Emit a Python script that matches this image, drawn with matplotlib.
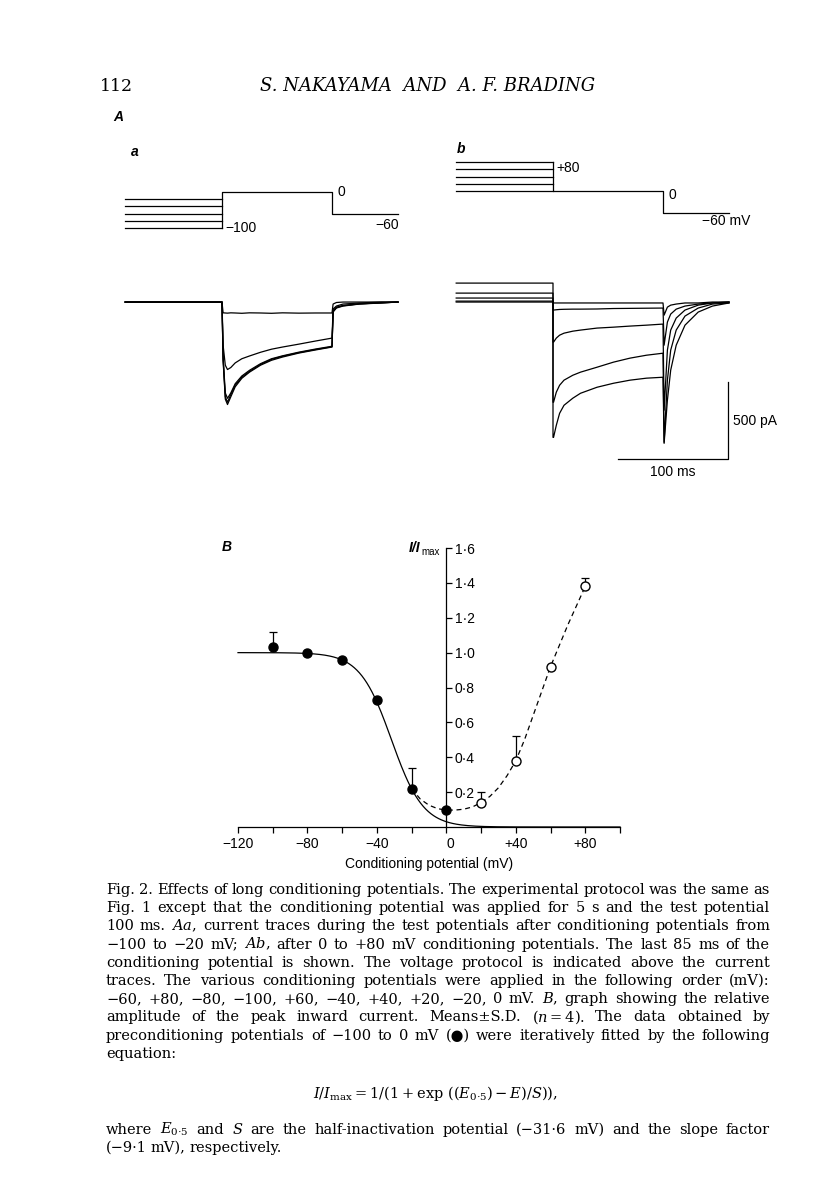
"""
Fig. 2 page: long conditioning potentials, current traces and I/Imax curve.
"""
import numpy as np
import matplotlib
matplotlib.use("Agg")
import matplotlib.pyplot as plt

W, H = 816, 1200

# ---- A: voltage protocol (mV) ----
cond_a_mV = [-100, -80, -60, -40, -20]
cond_b_mV = [0, 20, 40, 60, 80]
test_mV = 0
hold_mV = -60
t_cond_start = -88      # ms, last 85 ms of conditioning shown
t_test_end = 100        # ms
t_end = 160             # ms

# ---- Aa: currents after -100..-20 mV (pA) ----
ta_test = [0, 1, 3, 5, 8, 12, 18, 25, 35, 45, 55, 70, 85, 100]
ia_test = [
    [0, -380, -630, -665, -615, -550, -495, -455, -410, -378, -357, -331, -311, -292],   # -100
    [0, -370, -615, -650, -600, -540, -488, -450, -405, -372, -352, -328, -308, -290],   # -80
    [0, -355, -590, -625, -590, -530, -480, -443, -400, -368, -349, -325, -305, -287],   # -60
    [0, -280, -410, -438, -425, -395, -368, -350, -326, -306, -292, -273, -253, -234],   # -40
    [0, -70, -71, -72, -70, -71, -73, -70, -71, -73, -70, -72, -71, -71],                # -20
]
ta_tail = [100, 101, 104, 110, 125, 145, 160]
ia_tail = [
    [-292, -65, -39, -26, -13, -6, 0],
    [-290, -60, -36, -24, -12, -5, 0],
    [-287, -55, -33, -22, -11, -5, 0],
    [-234, -45, -26, -13, -6, 0, 0],
    [-71, -13, -3, 0, 0, 0, 0],
]
ia_pre = [0, 0, 0, 0, 0]

# ---- Ab: currents after 0..+80 mV (pA) ----
ib_pre = [0, 6, 26, 58, 123]
tb_test = [0, 0.5, 3, 6, 10, 18, 25, 40, 55, 70, 85, 100]
ib_test = [
    [-6, -6, -6, -6, -6, -6, -6, -6, -6, -6, -6, -6],                                   # 0
    [-52, -52, -50, -48, -47, -46, -46, -45, -42, -41, -40, -39],                       # +20
    [-260, -260, -234, -215, -202, -189, -182, -169, -163, -156, -150, -143],           # +40
    [-650, -650, -585, -540, -507, -475, -455, -423, -390, -364, -345, -332],           # +60
    [-878, -878, -800, -722, -670, -624, -592, -553, -527, -507, -494, -488],           # +80
]
tb_tail = [100, 101, 104, 107, 112, 120, 132, 145, 160]
ib_tail = [
    [-6, -85, -33, -20, -13, -6, -6, 0, 0],
    [-39, -280, -130, -78, -46, -26, -13, -6, 0],
    [-143, -702, -312, -182, -104, -52, -20, -6, 0],
    [-332, -910, -507, -312, -182, -91, -39, -13, -6],
    [-488, -917, -637, -442, -280, -150, -65, -26, -6],
]
bar_ms, bar_pA = 100, 500

# ---- B: relative peak inward current ----
fill_mV = [-100, -80, -60, -40, -20, 0]
fill_rel = [1.03, 1.00, 0.96, 0.73, 0.22, 0.10]
fill_sd = [0.09, 0, 0, 0, 0.12, 0]
open_mV = [20, 40, 60, 80]
open_rel = [0.14, 0.38, 0.92, 1.38]
open_sd = [0.06, 0.14, 0, 0.05]
dash_mV = [-20, -15, -10, -5, 0, 5, 10, 15, 20, 25, 30, 35, 40, 45, 50, 55, 60, 65, 70, 75, 80]
dash_rel = [0.22, 0.16, 0.125, 0.105, 0.097, 0.097, 0.102, 0.115, 0.14, 0.175, 0.225,
            0.295, 0.38, 0.50, 0.64, 0.78, 0.92, 1.04, 1.16, 1.27, 1.38]
E05, S_fit = -31.6, -9.1
x_ticks = [-120, -80, -40, 0, 40, 80]
x_tick_labels = ["\u2212120", "\u221280", "\u221240", "0", "+40", "+80"]
x_minor = [-100, -60, -20, 20, 60, 100]
y_ticks = [0.2, 0.4, 0.6, 0.8, 1.0, 1.2, 1.4, 1.6]
y_tick_labels = ["0\u00b72", "0\u00b74", "0\u00b76", "0\u00b78", "1\u00b70", "1\u00b72", "1\u00b74", "1\u00b76"]

caption = [
    "Fig. 2. Effects of long conditioning potentials. The experimental protocol was the same as",
    "Fig. 1 except that the conditioning potential was applied for 5 s and the test potential",
    "100 ms. $Aa$, current traces during the test potentials after conditioning potentials from",
    "\u2212100 to \u221220 mV; $Ab$, after 0 to +80 mV conditioning potentials. The last 85 ms of the",
    "conditioning potential is shown. The voltage protocol is indicated above the current",
    "traces. The various conditioning potentials were applied in the following order (mV):",
    "\u221260, +80, \u221280, \u2212100, +60, \u221240, +40, +20, \u221220, 0 mV. $B$, graph showing the relative",
    "amplitude of the peak inward current. Means\u00b1S.D. ($n=4$). The data obtained by",
    "preconditioning potentials of \u2212100 to 0 mV (\u25cf) were iteratively fitted by the following",
    "equation:",
]
equation = r"$I/I_{\rm max} = 1/(1+\exp\,((E_{0{\cdot}5})-E)/S)),$"
caption_tail = [
    "where $E_{0{\\cdot}5}$ and $S$ are the half-inactivation potential (\u221231\u00b76 mV) and the slope factor",
    "(\u22129\u00b71 mV), respectively.",
]

plt.rcParams["mathtext.fontset"] = "dejavuserif"
SANS = "Liberation Sans"
SERIF = ["DejaVu Serif", "DejaVu Sans"]

fig = plt.figure(figsize=(W / 100, H / 100), dpi=100)


def px_axes(left, top, right, bottom):
    return fig.add_axes([left / W, 1 - bottom / H, (right - left) / W, (bottom - top) / H])


def ftext(x, y, s, **kw):
    return fig.text(x / W, 1 - y / H, s, **kw)


# header
ftext(100, 91, "112", family=SERIF, size=12.5, va="baseline")
ftext(428, 91, "S. NAKAYAMA  AND  A. F. BRADING", family=SERIF, size=13,
      style="italic", ha="center", va="baseline")
ftext(113, 117, "A", family=SANS, size=10, style="italic", weight="bold", va="center")
ftext(131, 152, "a", family=SANS, size=10, style="italic", weight="bold", va="center")
ftext(457, 149, "b", family=SANS, size=10, style="italic", weight="bold", va="center")

LW = 0.9
lab = dict(family=SANS, size=10, va="center")

# ---- protocols ----
for left, zero_y, conds, label_pos in [(123, 192, cond_a_mV, "a"), (454, 191, cond_b_mV, "b")]:
    ax = px_axes(left, zero_y - 90 * 0.36, left + 252 * 1.1, zero_y + 110 * 0.36)
    ax.set_xlim(-90, 162)
    ax.set_ylim(-110, 90)
    ax.axis("off")
    for v in conds:
        ax.plot([t_cond_start, 0], [v, v], color="black", lw=LW)
    far = conds[0] if abs(conds[0]) > abs(conds[-1]) else conds[-1]
    ax.plot([0, 0, t_test_end, t_test_end, t_end],
            [far, test_mV, test_mV, hold_mV, hold_mV], color="black", lw=LW)
    if label_pos == "a":
        ax.text(105, test_mV, "0", ha="left", **lab)
        ax.text(3, -100, "\u2212100", ha="left", **lab)
        ax.text(161, -92, "\u221260", ha="right", **lab)
    else:
        ax.text(3, 80 - 15, "+80", ha="left", **lab)
        ax.text(105, test_mV - 10, "0", ha="left", **lab)
        ax.text(135, -82, "\u221260 mV", ha="left", **lab)


def trace(ax, pre, tt, it, tl, il):
    t = [t_cond_start, 0] + list(tt) + list(tl[1:])
    i = [pre, pre] + list(it) + list(il[1:])
    ax.plot(t, i, color="black", lw=LW)


# ---- current traces ----
ax_a = px_axes(123, 270, 123 + 252 * 1.1, 470)
ax_b = px_axes(454, 270, 454 + 252 * 1.1, 470)
for ax in (ax_a, ax_b):
    ax.set_xlim(-90, 162)
    ax.set_ylim(-1090, 208)
    ax.axis("off")
for k in range(5):
    trace(ax_a, ia_pre[k], ta_test, ia_test[k], ta_tail, ia_tail[k])
    trace(ax_b, ib_pre[k], tb_test, ib_test[k], tb_tail, ib_tail[k])
# scale bar
bx, by = 159, -1020
ax_b.plot([bx - bar_ms, bx, bx], [by, by, by + bar_pA], color="black", lw=LW)
ax_b.text(bx + 5, by + bar_pA / 2, "500 pA", ha="left", **lab)
ax_b.text(bx - bar_ms / 2, by - 80, "100 ms", ha="center", **lab)

# ---- B ----
axB = px_axes(238, 548, 620, 827)
axB.set_xlim(-120, 100)
axB.set_ylim(0, 1.6)
axB.patch.set_visible(False)
for s in ("left", "top"):
    axB.spines[s].set_visible(False)
axB.spines["right"].set_position(("data", 0))
axB.spines["right"].set_linewidth(LW)
axB.spines["bottom"].set_linewidth(LW)
axB.yaxis.set_ticks_position("right")
axB.set_xticks(x_ticks)
axB.set_xticklabels(x_tick_labels, family=SANS, size=10)
axB.set_xticks(x_minor, minor=True)
axB.set_yticks(y_ticks)
axB.set_yticklabels(y_tick_labels, family=SANS, size=10)
axB.tick_params(axis="both", which="both", direction="out", length=4, width=LW)
axB.tick_params(axis="y", pad=2)
for tk in axB.xaxis.get_major_ticks():
    if tk.label1.get_text() == "0":
        tk.label1.set_ha("left")
axB.set_xlabel("Conditioning potential (mV)", family=SANS, size=10, labelpad=4)

E = np.linspace(-120, 100, 300)
axB.plot(E, 1 / (1 + np.exp((E05 - E) / S_fit)), color="black", lw=LW, clip_on=False)
axB.plot(dash_mV, dash_rel, color="black", lw=LW, ls=(0, (4, 3)), clip_on=False)

for xs, ys, sds in [(fill_mV, fill_rel, fill_sd), (open_mV, open_rel, open_sd)]:
    xs, ys, sds = np.array(xs), np.array(ys), np.array(sds)
    m = sds > 0
    _, caps, _ = axB.errorbar(xs[m], ys[m], yerr=[np.zeros(m.sum()), sds[m]], fmt="none",
                              ecolor="black", elinewidth=LW, capsize=3, capthick=LW)
    caps[0].set_visible(False)
axB.plot(fill_mV, fill_rel, "o", color="black", ms=6.5, zorder=5, clip_on=False)
axB.plot(open_mV, open_rel, "o", mfc="white", mec="black", mew=1.0, ms=6.5, zorder=5,
         clip_on=False)

ftext(222, 547, "B", family=SANS, size=10, style="italic", weight="bold", va="center")
ftext(420, 548, "I/I", family=SANS, size=10, style="italic", weight="bold",
      ha="right", va="center")
ftext(421, 552, "max", family=SANS, size=7, ha="left", va="center")

# ---- caption (justified) ----
CAP_L, CAP_R = 106, 770
renderer = fig.canvas.get_renderer()


def caption_line(text, y, justify=True, size=10.5):
    words = text.split(" ")
    objs = [ftext(0, y, w, family=SERIF, size=size, va="baseline") for w in words]
    widths = [o.get_window_extent(renderer).width for o in objs]
    gap = (CAP_R - CAP_L - sum(widths)) / (len(words) - 1) if justify and len(words) > 1 else 4.0
    x = CAP_L
    for o, w in zip(objs, widths):
        o.set_x(x / W)
        x += w + gap


y0, sp = 894, 18.2
for n, line in enumerate(caption):
    caption_line(line, y0 + n * sp, justify=(n < len(caption) - 1))
ftext(435, y0 + 9 * sp + 40, equation, family=SERIF, size=10.5, ha="center", va="baseline")
caption_line(caption_tail[0], y0 + 9 * sp + 76)
caption_line(caption_tail[1], y0 + 9 * sp + 76 + sp, justify=False)

fig.savefig("out.png", dpi=100)
plt.close(fig)
